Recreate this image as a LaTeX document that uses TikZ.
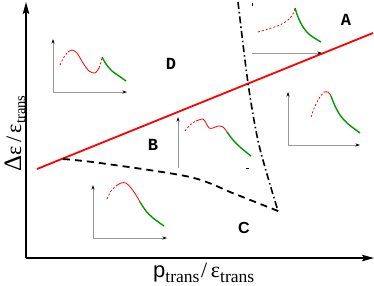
\documentclass[tikz,border=0pt]{standalone}
\usepackage{fontspec}
\setmainfont{Liberation Serif}
\setsansfont{Liberation Sans}
\setmonofont{Liberation Mono}
\usetikzlibrary{arrows.meta}
\newcommand{\mysubx}[1]{\raisebox{-5pt}{\fontsize{17.5}{17.5}\selectfont #1}}
\newcommand{\mysuby}[1]{\raisebox{-4pt}{\fontsize{14.5}{14.5}\selectfont #1}}
\tikzset{
  mainaxis/.style={line width=1.3pt, -{Stealth[length=12pt,width=6.5pt,inset=2pt]}},
  inaxis/.style={draw=black!40, line width=0.9pt, -{Stealth[length=4.5pt,width=3pt,black]}},
  inline/.style={draw=black!40, line width=0.9pt},
  redc/.style={draw=red, line width=0.8pt},
  redd/.style={draw=red, line width=0.8pt, dash pattern=on 2pt off 2pt},
  grc/.style={draw=green!60!black, line width=1.4pt},
  border/.style={draw=red, line width=1.8pt},
  dashb/.style={draw=black, line width=1.8pt, dash pattern=on 7pt off 5pt},
  dashdotb/.style={draw=black, line width=1.6pt, dash pattern=on 7pt off 3pt on 1.5pt off 3pt},
  regionlbl/.style={font=\fontsize{17}{17}\ttfamily\bfseries, inner sep=0pt},
}
\begin{document}
\begin{tikzpicture}[x=1pt,y=-1pt]
\useasboundingbox (0,0) rectangle (374,285);

% main axes
\coordinate (O) at (26,258);
\coordinate (Ytop) at (26,2);
\coordinate (Xend) at (374,258);
\draw[mainaxis] (O) -- (Ytop);
\draw[mainaxis] (O) -- (Xend);

% axis labels
\node[anchor=base west, inner sep=0pt] (xlab) at (153,277)
  {{\fontsize{22}{22}\sffamily p}\mysubx{trans}\,{\fontsize{22}{22}\selectfont /\,ε}\mysubx{trans}};
\node[anchor=base west, inner sep=0pt, rotate=90] (ylab) at (21,172)
  {{\fontsize{25}{25}\selectfont Δ}{\fontsize{22}{22}\selectfont ε\,/\,ε}\mysuby{trans}};

% boundary lines
\coordinate (r1) at (37,169);
\coordinate (r2) at (373,33);
\draw[border] (r1) -- (r2);
\draw[dashb] plot[smooth] coordinates {(63,159) (100,163) (190,177) (235,194) (278,211)};
\draw[dashdotb] plot[smooth] coordinates {(238,2) (248,83) (259,145) (278,211)};

% region labels
\node[regionlbl] (D) at (171,64) {D};
\node[regionlbl] (A) at (346,20) {A};
\node[regionlbl] (B) at (153,145) {B};
\node[font=\fontsize{16}{16}\sffamily\bfseries, inner sep=0pt] (C) at (244,228) {C};

% inset D (top left)
\coordinate (dO) at (53,92);
\draw[inaxis] (dO) -- (53,39);
\draw[inaxis] (dO) -- (127,92);
\draw[redd] plot[smooth] coordinates {(60,65) (64,57) (68,52)};
\draw[redc] plot[smooth] coordinates {(68,52) (72,50) (77,53) (83,63) (89,71) (95,73) (99,68)};
\draw[redd] plot[smooth] coordinates {(99,68) (101,62) (102,57)};
\draw[grc] plot[smooth] coordinates {(102,57) (106,64) (112,71) (119,76) (126,81)};

% inset B
\draw[inaxis] (178,168) -- (178,117);
\draw[line width=1pt] (246,168) -- (249,168);
\draw[redd] plot[smooth] coordinates {(185,131) (190,125) (196,121)};
\draw[redc] plot[smooth] coordinates {(196,121) (203,119) (206,123) (209,128) (213,128) (218,126) (223,127) (227,132)};
\draw[grc] plot[smooth] coordinates {(227,132) (233,140) (240,147) (246,152) (251,156)};

% inset A (top right)
\draw[inaxis] (252,53) -- (322,53);
\draw[line width=1pt] (252,3) -- (252,6);
\draw[redd] plot[smooth] coordinates {(258,32) (268,29) (280,25) (288,20) (293,14) (295,8)};
\draw[grc] plot[smooth] coordinates {(295,8) (298,17) (303,27) (310,35) (321,42)};

% inset right
\coordinate (rO) at (288,145);
\draw[inaxis] (rO) -- (288,92);
\draw[inaxis] (rO) -- (360,145);
\draw[redd] plot[smooth] coordinates {(311,117) (315,106) (320,97) (324,92)};
\draw[redc] plot[smooth] coordinates {(324,92) (328,92) (331,96)};
\draw[grc] plot[smooth] coordinates {(331,96) (335,106) (340,115) (347,123) (360,133)};

% inset C (bottom)
\coordinate (cO) at (93,238);
\draw[inaxis] (cO) -- (93,185);
\draw[inaxis] (cO) -- (167,238);
\draw[redd] plot[smooth] coordinates {(107,199) (111,191) (116,186)};
\draw[redc] plot[smooth] coordinates {(116,186) (121,183) (126,183) (131,188) (136,195) (140,202)};
\draw[grc] plot[smooth] coordinates {(140,202) (146,211) (153,218) (164,226)};
\end{tikzpicture}
\end{document}
